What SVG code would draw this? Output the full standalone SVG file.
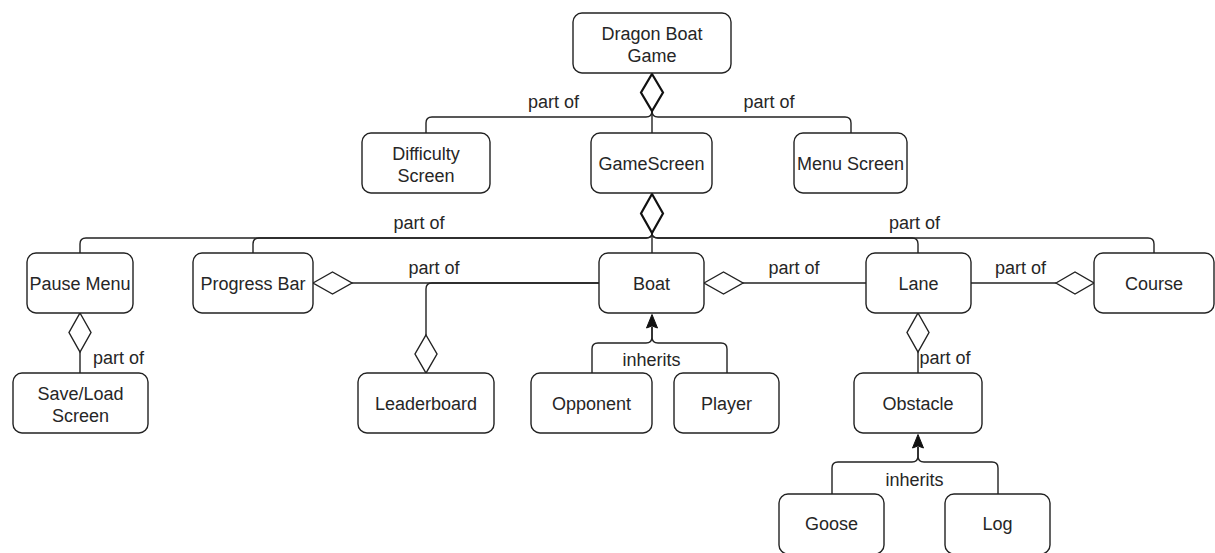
<svg xmlns="http://www.w3.org/2000/svg" width="1215" height="553" viewBox="0 0 1215 553">
<style>
.box{fill:#fff;stroke:#222;stroke-width:1.4}
.t{font-family:"Liberation Sans",Arial,sans-serif;font-size:18px;fill:#262626;text-anchor:middle}
.e{fill:none;stroke:#222;stroke-width:1.4}
.d{fill:#fff;stroke:#222;stroke-width:1.4}
.db{fill:#fff;stroke:#111;stroke-width:2.2}
.a{fill:#111;stroke:#111;stroke-width:1}
</style>
<rect width="1215" height="553" fill="#fff"/>
<g id="connectors">
  <path class="e" d="M426,133 V123 Q426,117 432,117 H646 Q652,117 652,111"/>
  <path class="e" d="M851,133 V123 Q851,117 845,117 H658 Q652,117 652,111"/>
  <path class="e" d="M652,133 V111"/>
  <polygon class="db" points="652,74 663,92.5 652,111 641,92.5"/>
  <text class="t" x="553.5" y="108">part of</text>
  <text class="t" x="769" y="108">part of</text>

  <path class="e" d="M80,253 V244 Q80,238 86,238 H646 Q652,238 652,233"/>
  <path class="e" d="M253,253 V244 Q253,238 259,238 H646 Q652,238 652,233"/>
  <path class="e" d="M652,253 V233"/>
  <path class="e" d="M918,253 V244 Q918,238 912,238 H658 Q652,238 652,233"/>
  <path class="e" d="M1154,253 V244 Q1154,238 1148,238 H658 Q652,238 652,233"/>
  <polygon class="db" points="652,194 663,213.5 652,233 641,213.5"/>
  <text class="t" x="419" y="229">part of</text>
  <text class="t" x="914.5" y="229">part of</text>

  <path class="e" d="M599,283 H352"/>
  <polygon class="d" points="313,283 332.5,272 352,283 332.5,294"/>
  <text class="t" x="434" y="274">part of</text>
  <path class="e" d="M599,283 H432 Q426,283 426,289 V335"/>
  <polygon class="d" points="426,335 437,354 426,373 415,354"/>

  <path class="e" d="M80,352 V373"/>
  <polygon class="d" points="80,313 91,332.5 80,352 69,332.5"/>
  <text class="t" x="118.5" y="364">part of</text>

  <path class="e" d="M743,283 H866"/>
  <polygon class="d" points="704,283 723.5,272 743,283 723.5,294"/>
  <text class="t" x="794" y="274">part of</text>

  <path class="e" d="M971,283 H1056"/>
  <polygon class="d" points="1056,283 1075,272 1094,283 1075,294"/>
  <text class="t" x="1020.5" y="274">part of</text>

  <path class="e" d="M918,352 V373"/>
  <polygon class="d" points="918,313 929,332.5 918,352 907,332.5"/>
  <text class="t" x="945" y="364">part of</text>

  <path class="e" d="M592,373 V349 Q592,343 598,343 H646 Q652,343 652,337 V327"/>
  <path class="e" d="M727,373 V349 Q727,343 721,343 H658 Q652,343 652,337 V327"/>
  <polygon class="a" points="652,314.5 657.5,328 652,326 646.5,328"/>
  <text class="t" x="651.5" y="366">inherits</text>

  <path class="e" d="M832,494 V468 Q832,462 838,462 H912 Q918,462 918,456 V447"/>
  <path class="e" d="M998,494 V468 Q998,462 992,462 H924 Q918,462 918,456 V447"/>
  <polygon class="a" points="918,434.5 923.5,448 918,446 912.5,448"/>
  <text class="t" x="914.5" y="486">inherits</text>
</g>
<g id="dragon-boat-game"><rect class="box" x="573" y="13" width="158" height="60" rx="9"/><text class="t" x="652" y="39.5">Dragon Boat</text><text class="t" x="652" y="61.5">Game</text></g>
<g id="difficulty-screen"><rect class="box" x="362" y="133" width="128" height="60" rx="9"/><text class="t" x="426" y="159.5">Difficulty</text><text class="t" x="426" y="181.5">Screen</text></g>
<g id="gamescreen"><rect class="box" x="591" y="133" width="121" height="60" rx="9"/><text class="t" x="651.5" y="169.5">GameScreen</text></g>
<g id="menu-screen"><rect class="box" x="794" y="133" width="113" height="60" rx="9"/><text class="t" x="850.5" y="169.5">Menu Screen</text></g>
<g id="pause-menu"><rect class="box" x="27" y="253" width="106" height="60" rx="9"/><text class="t" x="80" y="289.5">Pause Menu</text></g>
<g id="progress-bar"><rect class="box" x="193" y="253" width="120" height="60" rx="9"/><text class="t" x="253" y="289.5">Progress Bar</text></g>
<g id="boat"><rect class="box" x="599" y="253" width="105" height="60" rx="9"/><text class="t" x="651.5" y="289.5">Boat</text></g>
<g id="lane"><rect class="box" x="866" y="253" width="105" height="60" rx="9"/><text class="t" x="918.5" y="289.5">Lane</text></g>
<g id="course"><rect class="box" x="1094" y="253" width="120" height="60" rx="9"/><text class="t" x="1154" y="289.5">Course</text></g>
<g id="save-load-screen"><rect class="box" x="13" y="373" width="135" height="60" rx="9"/><text class="t" x="80.5" y="399.5">Save/Load</text><text class="t" x="80.5" y="421.5">Screen</text></g>
<g id="leaderboard"><rect class="box" x="358" y="373" width="136" height="60" rx="9"/><text class="t" x="426" y="409.5">Leaderboard</text></g>
<g id="opponent"><rect class="box" x="531" y="373" width="121" height="60" rx="9"/><text class="t" x="591.5" y="409.5">Opponent</text></g>
<g id="player"><rect class="box" x="674" y="373" width="105" height="60" rx="9"/><text class="t" x="726.5" y="409.5">Player</text></g>
<g id="obstacle"><rect class="box" x="854" y="373" width="128" height="60" rx="9"/><text class="t" x="918" y="409.5">Obstacle</text></g>
<g id="goose"><rect class="box" x="779" y="494" width="105" height="60" rx="9"/><text class="t" x="831.5" y="530">Goose</text></g>
<g id="log"><rect class="box" x="945" y="494" width="105" height="60" rx="9"/><text class="t" x="997.5" y="530">Log</text></g>
</svg>
